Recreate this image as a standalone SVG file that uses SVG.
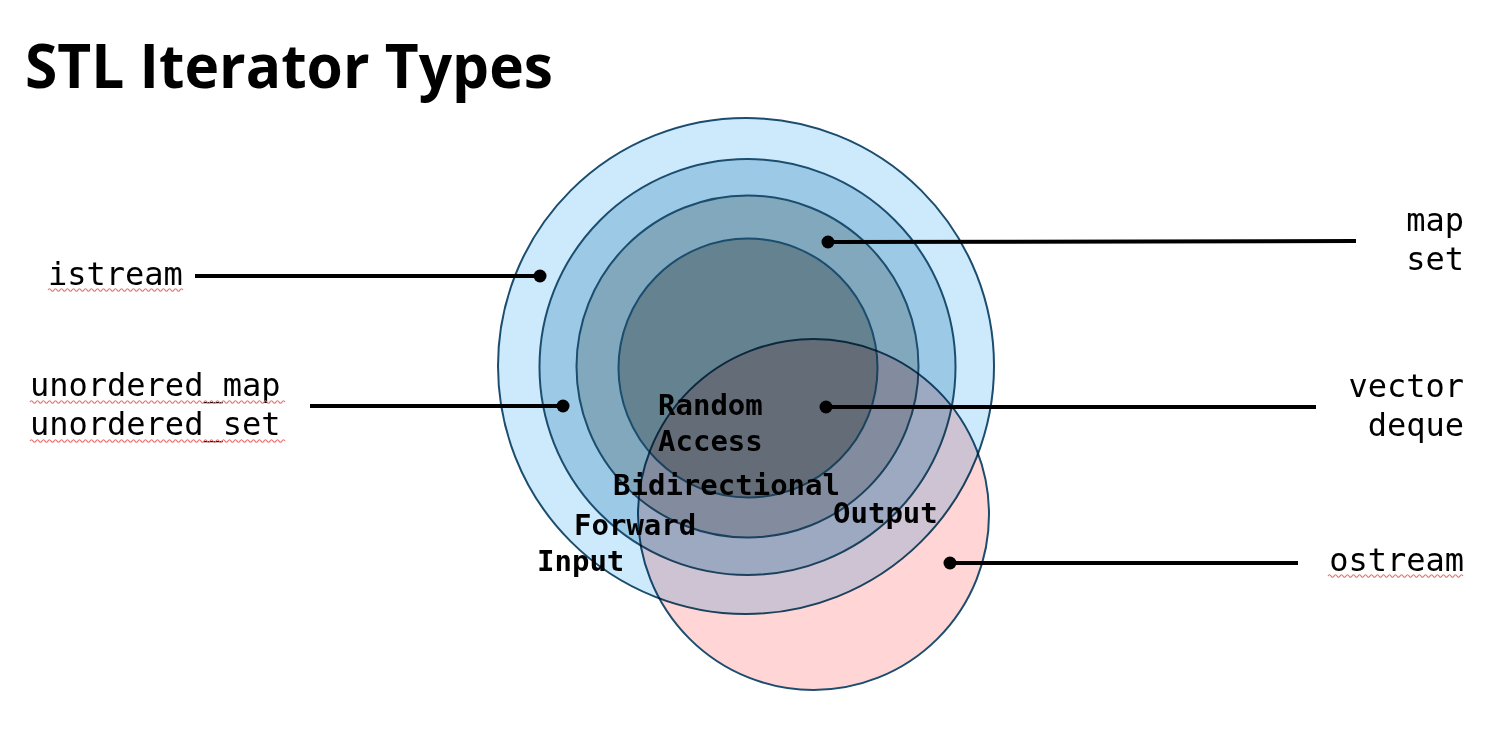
<svg xmlns="http://www.w3.org/2000/svg" width="1495" height="735" viewBox="0 0 1495 735">
<style>
.ring{stroke:#1b4d6e;stroke-width:2}
.lbl{font-family:"DejaVu Sans Mono","Liberation Mono",monospace;font-size:32px;fill:#000}
.in{font-family:"DejaVu Sans Mono","Liberation Mono",monospace;font-size:29px;font-weight:bold;fill:#000}
.conn{stroke:#000;stroke-width:4;fill:none}
.dot{fill:#000}
.wave{fill:none;stroke:#ee6a6a;stroke-width:1.2}
.title{font-family:"Open Sans","Noto Sans",sans-serif;font-weight:700;font-size:61px;fill:#000}
</style>
<rect width="1495" height="735" fill="#ffffff"/>
<text class="title" x="25" y="88" textLength="528" lengthAdjust="spacingAndGlyphs">STL Iterator Types</text>
<g id="input"><circle class="ring" cx="746" cy="366" r="248" fill="#cdeafc"/></g>
<g id="forward"><circle class="ring" cx="747.5" cy="367" r="208" fill="#9ccae6"/></g>
<g id="bidirectional"><circle class="ring" cx="747.5" cy="366.5" r="171" fill="#82a8bd"/></g>
<g id="random-access"><circle class="ring" cx="748" cy="368" r="129.5" fill="#64828f"/></g>
<g id="output"><circle class="ring" cx="813.5" cy="514.5" r="175.5" fill="#ffd5d5" style="mix-blend-mode:multiply"/></g>
<g id="connectors">
<line class="conn" x1="195" y1="276" x2="540" y2="276"/><circle class="dot" cx="540" cy="276" r="6.5"/>
<line class="conn" x1="310" y1="406" x2="563" y2="406"/><circle class="dot" cx="563" cy="406" r="6.5"/>
<line class="conn" x1="828" y1="242" x2="1356" y2="241"/><circle class="dot" cx="828" cy="242" r="6.5"/>
<line class="conn" x1="826" y1="407" x2="1316" y2="407"/><circle class="dot" cx="826" cy="407" r="6.5"/>
<line class="conn" x1="950" y1="563" x2="1298" y2="563"/><circle class="dot" cx="950" cy="563" r="6.5"/>
</g>
<g id="inner-labels">
<text class="in" x="658" y="415">Random</text>
<text class="in" x="658" y="451">Access</text>
<text class="in" x="613" y="495">Bidirectional</text>
<text class="in" x="574" y="535">Forward</text>
<text class="in" x="537" y="571">Input</text>
<text class="in" x="833" y="523">Output</text>
</g>
<g id="label-istream">
<text class="lbl" x="48" y="285">istream</text>
<path class="wave" d="M48,290 q1.5,-2.5 3,0 t3,0 t3,0 t3,0 t3,0 t3,0 t3,0 t3,0 t3,0 t3,0 t3,0 t3,0 t3,0 t3,0 t3,0 t3,0 t3,0 t3,0 t3,0 t3,0 t3,0 t3,0 t3,0 t3,0 t3,0 t3,0 t3,0 t3,0 t3,0 t3,0 t3,0 t3,0 t3,0 t3,0 t3,0 t3,0 t3,0 t3,0 t3,0 t3,0 t3,0 t3,0 t3,0 t3,0 t3,0"/>
</g>
<g id="label-unordered">
<text class="lbl" x="30" y="396">unordered_map</text>
<text class="lbl" x="30" y="435">unordered_set</text>
<path class="wave" d="M30,402 q1.5,-2.5 3,0 t3,0 t3,0 t3,0 t3,0 t3,0 t3,0 t3,0 t3,0 t3,0 t3,0 t3,0 t3,0 t3,0 t3,0 t3,0 t3,0 t3,0 t3,0 t3,0 t3,0 t3,0 t3,0 t3,0 t3,0 t3,0 t3,0 t3,0 t3,0 t3,0 t3,0 t3,0 t3,0 t3,0 t3,0 t3,0 t3,0 t3,0 t3,0 t3,0 t3,0 t3,0 t3,0 t3,0 t3,0 t3,0 t3,0 t3,0 t3,0 t3,0 t3,0 t3,0 t3,0 t3,0 t3,0 t3,0 t3,0 t3,0 t3,0 t3,0 t3,0 t3,0 t3,0 t3,0 t3,0 t3,0 t3,0 t3,0 t3,0 t3,0 t3,0 t3,0 t3,0 t3,0 t3,0 t3,0 t3,0 t3,0 t3,0 t3,0 t3,0 t3,0 t3,0 t3,0 t3,0"/>
<path class="wave" d="M30,441 q1.5,-2.5 3,0 t3,0 t3,0 t3,0 t3,0 t3,0 t3,0 t3,0 t3,0 t3,0 t3,0 t3,0 t3,0 t3,0 t3,0 t3,0 t3,0 t3,0 t3,0 t3,0 t3,0 t3,0 t3,0 t3,0 t3,0 t3,0 t3,0 t3,0 t3,0 t3,0 t3,0 t3,0 t3,0 t3,0 t3,0 t3,0 t3,0 t3,0 t3,0 t3,0 t3,0 t3,0 t3,0 t3,0 t3,0 t3,0 t3,0 t3,0 t3,0 t3,0 t3,0 t3,0 t3,0 t3,0 t3,0 t3,0 t3,0 t3,0 t3,0 t3,0 t3,0 t3,0 t3,0 t3,0 t3,0 t3,0 t3,0 t3,0 t3,0 t3,0 t3,0 t3,0 t3,0 t3,0 t3,0 t3,0 t3,0 t3,0 t3,0 t3,0 t3,0 t3,0 t3,0 t3,0 t3,0"/>
</g>
<g id="label-mapset">
<text class="lbl" x="1464" y="231" text-anchor="end">map</text>
<text class="lbl" x="1464" y="270" text-anchor="end">set</text>
</g>
<g id="label-vector">
<text class="lbl" x="1464" y="397" text-anchor="end">vector</text>
<text class="lbl" x="1464" y="436" text-anchor="end">deque</text>
</g>
<g id="label-ostream">
<text class="lbl" x="1464" y="571" text-anchor="end">ostream</text>
<path class="wave" d="M1328,576 q1.5,-2.5 3,0 t3,0 t3,0 t3,0 t3,0 t3,0 t3,0 t3,0 t3,0 t3,0 t3,0 t3,0 t3,0 t3,0 t3,0 t3,0 t3,0 t3,0 t3,0 t3,0 t3,0 t3,0 t3,0 t3,0 t3,0 t3,0 t3,0 t3,0 t3,0 t3,0 t3,0 t3,0 t3,0 t3,0 t3,0 t3,0 t3,0 t3,0 t3,0 t3,0 t3,0 t3,0 t3,0 t3,0 t3,0"/>
</g>
</svg>
